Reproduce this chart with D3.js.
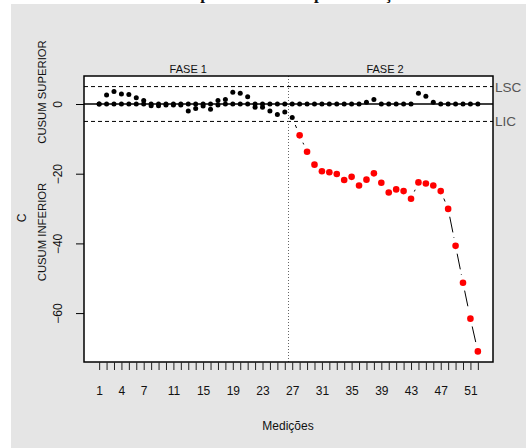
<!DOCTYPE html>
<html>
<head>
<meta charset="utf-8">
<script src="https://cdn.jsdelivr.net/npm/d3@7"></script>
<style>
body { margin: 0; background: #fff; }
svg { display: block; font-family: "Liberation Sans", Arial, sans-serif; }
</style>
</head>
<body>
<svg id="chart" width="526" height="448"></svg>
<script>
// medições 1..52
var medicoes = d3.range(1, 53);
var xTicks = [1, 4, 7, 11, 15, 19, 23, 27, 31, 35, 39, 43, 47, 51];
var yTicks = [0, -20, -40, -60];
var cusumSup = [0, 2.6, 3.6, 2.9, 2.7, 1.8, 1.0, 0, 0, 0, 0, 0, 0, 0, 0, 0, 1.0, 1.3, 3.4, 3.1,
    2.1, 0, 0, 0, 0, 0, 0, 0, 0, 0, 0, 0, 0, 0, 0, 0, 0.5, 1.3, 0, 0,
    0, 0, 0, 3.1, 2.2, 0.5, 0, 0, 0, 0, 0, 0];
var cusumInf = [0, 0, 0, 0, 0, 0, 0, -0.5, -0.5, -0.3, -0.3, -0.3, -2.0, -1.3, -0.6, -1.5, -0.3, 0, 0, 0,
    0, -0.9, -0.9, -2.0, -3.0, -2.3, -3.9, -9.0, -13.7, -17.4, -19.3, -19.6, -20.1, -21.8, -20.9, -23.4, -21.7, -19.9, -22.6, -25.4,
    -24.5, -25.0, -27.2, -22.5, -22.8, -23.4, -25.0, -30.1, -40.7, -51.3, -61.6, -71.0];
var LSC = 5, LIC = -5;
var fimFase1 = 26.5;
var titulo = 'Gráfico CUSUM para a variável pela medição';

var svg = d3.select('#chart');

// título (cortado no topo da imagem)
var tit = svg.append('text').attr('x', 0).attr('y', -0.8)
    .style('font-family', '"Liberation Serif", serif').style('font-weight', 'bold').style('font-size', '17px')
    .attr('fill', '#111').text(titulo);
var ip = titulo.indexOf('p');
var offP = tit.node().getSubStringLength(0, ip) + tit.node().getSubStringLength(ip, 1) / 2;
tit.attr('x', 205 - offP);

svg.append('rect').attr('x', 11).attr('y', 4).attr('width', 515).attr('height', 444).attr('fill', '#e5e5e5');

var pLeft = 84, pRight = 493, pTop = 76, pBottom = 362;
var pad = (medicoes.length - 1) * 0.04;
var x = d3.scaleLinear().domain([1 - pad, medicoes.length + pad]).range([pLeft, pRight]);
var ymin = d3.min(cusumInf), ymax = d3.max([LSC, d3.max(cusumSup)]);
var ypad = (ymax - ymin) * 0.04;
var y = d3.scaleLinear().domain([ymin - ypad, ymax + ypad]).range([pBottom, pTop]);

svg.append('rect').attr('x', pLeft).attr('y', pTop).attr('width', pRight - pLeft).attr('height', pBottom - pTop)
    .attr('fill', '#fff');

// limites
svg.append('line').attr('x1', pLeft).attr('x2', pRight).attr('y1', y(LSC)).attr('y2', y(LSC))
    .attr('stroke', '#000').attr('stroke-dasharray', '4,3');
svg.append('line').attr('x1', pLeft).attr('x2', pRight).attr('y1', y(LIC)).attr('y2', y(LIC))
    .attr('stroke', '#000').attr('stroke-dasharray', '4,3');
svg.append('line').attr('x1', pLeft).attr('x2', pRight).attr('y1', y(0)).attr('y2', y(0))
    .attr('stroke', '#000').attr('stroke-width', 1.6);
svg.append('line').attr('x1', x(fimFase1)).attr('x2', x(fimFase1)).attr('y1', pTop).attr('y2', pBottom)
    .attr('stroke', '#666').attr('stroke-dasharray', '1,2');

// linha tracejada do cusum inferior (tipo "b")
var gap = 8;
var segs = d3.range(cusumInf.length - 1).map(function(i) {
    var x1 = x(medicoes[i]), y1 = y(cusumInf[i]), x2 = x(medicoes[i + 1]), y2 = y(cusumInf[i + 1]);
    var len = Math.sqrt((x2 - x1) * (x2 - x1) + (y2 - y1) * (y2 - y1));
    return {x1: x1, y1: y1, x2: x2, y2: y2, len: len};
}).filter(function(s) { return s.len > 2 * gap; });
svg.selectAll('.seg').data(segs).enter().append('line')
    .attr('x1', function(s) { return s.x1 + (s.x2 - s.x1) * gap / s.len; })
    .attr('y1', function(s) { return s.y1 + (s.y2 - s.y1) * gap / s.len; })
    .attr('x2', function(s) { return s.x2 - (s.x2 - s.x1) * gap / s.len; })
    .attr('y2', function(s) { return s.y2 - (s.y2 - s.y1) * gap / s.len; })
    .attr('stroke', '#000').attr('stroke-dasharray', '16,5');

svg.selectAll('.sup').data(cusumSup).enter().append('circle')
    .attr('cx', function(d, i) { return x(medicoes[i]); })
    .attr('cy', function(d) { return y(d); })
    .attr('r', 2.5).attr('fill', '#000');
svg.selectAll('.inf').data(cusumInf).enter().append('circle')
    .attr('cx', function(d, i) { return x(medicoes[i]); })
    .attr('cy', function(d) { return y(d); })
    .attr('r', function(d) { return d < LIC ? 3.3 : 2.5; })
    .attr('fill', function(d) { return d < LIC ? '#ff0000' : '#000'; });

svg.append('rect').attr('x', pLeft).attr('y', pTop).attr('width', pRight - pLeft).attr('height', pBottom - pTop)
    .attr('fill', 'none').attr('stroke', '#000').attr('stroke-width', 1.5);

// eixos
var xAxis = svg.append('g').attr('transform', 'translate(0,' + pBottom + ')')
    .call(d3.axisBottom(x).tickValues(medicoes).tickSize(8).tickFormat(function(d) {
        return xTicks.indexOf(d) >= 0 ? d : '';
    }));
xAxis.select('.domain').remove();
xAxis.selectAll('.tick line').attr('stroke', '#222');
xAxis.selectAll('text').attr('dy', 0).attr('y', 33).style('font-size', '12px').attr('fill', '#111');

var yAxis = svg.append('g').attr('transform', 'translate(' + pLeft + ',0)')
    .call(d3.axisLeft(y).tickValues(yTicks).tickSize(8).tickFormat(d3.format('d')));
yAxis.select('.domain').remove();
yAxis.selectAll('text').attr('x', 0).attr('dy', 0)
    .attr('transform', 'translate(-26,0) rotate(-90)')
    .attr('text-anchor', 'middle').attr('dominant-baseline', 'central')
    .style('font-size', '12px').attr('fill', '#111');

svg.append('text').attr('x', 288).attr('y', 430).attr('text-anchor', 'middle')
    .style('font-size', '12px').attr('fill', '#111').text('Medições');
svg.append('text').attr('transform', 'translate(22,218) rotate(-90)').attr('text-anchor', 'middle')
    .attr('dominant-baseline', 'central').style('font-size', '12px').attr('fill', '#111').text('C');
svg.append('text').attr('transform', 'translate(42,92) rotate(-90)').attr('text-anchor', 'middle')
    .attr('dominant-baseline', 'central').style('font-size', '11.3px').attr('fill', '#111').text('CUSUM SUPERIOR');
svg.append('text').attr('transform', 'translate(42,232) rotate(-90)').attr('text-anchor', 'middle')
    .attr('dominant-baseline', 'central').style('font-size', '11.3px').attr('fill', '#111').text('CUSUM INFERIOR');

svg.append('text').attr('x', x(13)).attr('y', 73).attr('text-anchor', 'middle')
    .style('font-size', '11px').attr('fill', '#111').text('FASE 1');
svg.append('text').attr('x', x(39.5)).attr('y', 73).attr('text-anchor', 'middle')
    .style('font-size', '11px').attr('fill', '#111').text('FASE 2');
svg.append('text').attr('x', 495).attr('y', y(LSC) + 5).style('font-size', '13.5px').attr('fill', '#555').text('LSC');
svg.append('text').attr('x', 495).attr('y', y(LIC) + 5).style('font-size', '13.5px').attr('fill', '#555').text('LIC');
</script>
</body>
</html>
